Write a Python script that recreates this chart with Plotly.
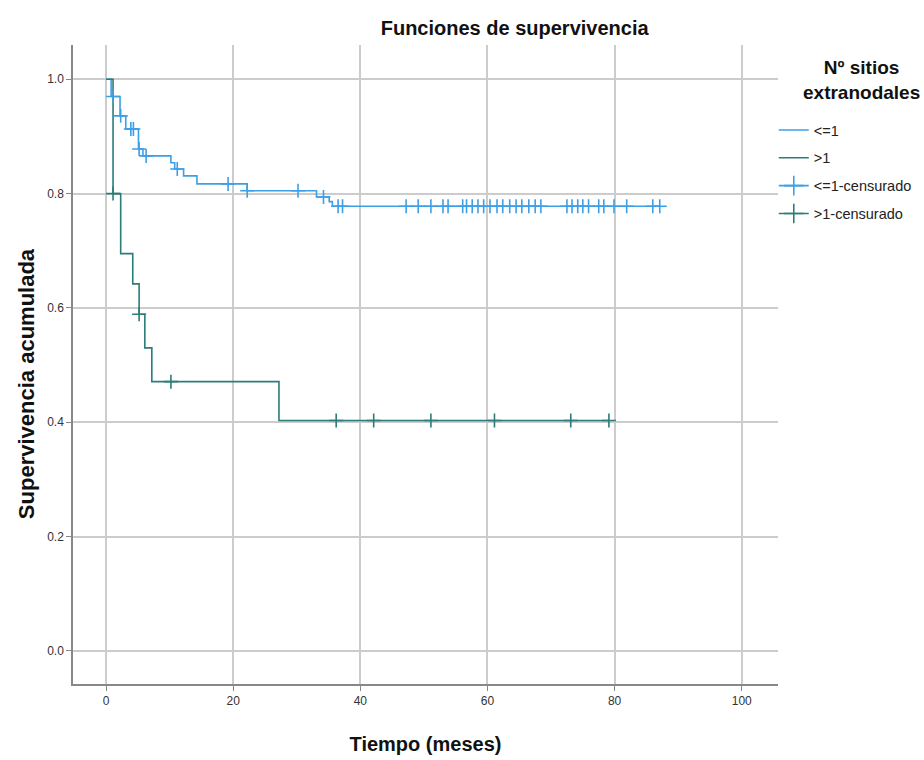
import plotly.graph_objects as go

# ---- data ----
blue_times = [0, 0.8, 2.2, 3.1, 5.1, 5.8, 10.2, 10.8, 12.2, 14.3, 22.2, 33.1, 35.1, 35.6, 87.1]
blue_surv = [1.0, 0.970, 0.936, 0.913, 0.878, 0.866, 0.854, 0.843, 0.831, 0.817, 0.805, 0.794, 0.786, 0.778, 0.778]
blue_cens_t = [1.1, 2.3, 3.9, 4.3, 5.2, 6.3, 11.2, 19.2, 22.2, 30.2, 34.2, 36.5, 37.2,
               47.2, 49.1, 51.1, 53.0, 53.8, 56.1, 56.7, 57.6, 58.5, 59.4, 60.4, 61.5, 62.4,
               63.5, 64.5, 65.4, 66.5, 67.5, 68.4, 72.5, 73.3, 74.2, 75.0, 75.9, 77.5, 78.3,
               79.9, 81.9, 86.0, 87.1]
blue_cens_s = [0.970, 0.936, 0.913, 0.913, 0.878, 0.866, 0.843, 0.817, 0.805, 0.805, 0.794,
               0.778, 0.778] + [0.778] * 30

green_times = [0, 1.1, 2.3, 4.2, 5.2, 6.1, 7.2, 27.2, 79.1]
green_surv = [1.0, 0.80, 0.695, 0.642, 0.589, 0.530, 0.471, 0.403, 0.403]
green_cens_t = [1.1, 5.2, 10.2, 36.2, 42.1, 51.1, 61.1, 73.1, 79.1]
green_cens_s = [0.80, 0.589, 0.471, 0.403, 0.403, 0.403, 0.403, 0.403, 0.403]

x_ticks = [0, 20, 40, 60, 80, 100]
y_ticks = [0.0, 0.2, 0.4, 0.6, 0.8, 1.0]

BLUE = "#3d9fe6"
GREEN = "#2c7c79"
FONT = "Liberation Sans, Arial, sans-serif"

fig = go.Figure()
fig.add_trace(go.Scatter(x=blue_times, y=blue_surv, mode="lines", line=dict(color=BLUE, width=1.6, shape="hv"),
                         name="<=1", legendgroup="a"))
fig.add_trace(go.Scatter(x=green_times, y=green_surv, mode="lines", line=dict(color=GREEN, width=1.6, shape="hv"),
                         name=">1", legendgroup="b"))
fig.add_trace(go.Scatter(x=blue_cens_t, y=blue_cens_s, mode="markers", showlegend=False,
                         marker=dict(symbol="cross-thin", size=10, line=dict(color=BLUE, width=1.6))))
fig.add_trace(go.Scatter(x=green_cens_t, y=green_cens_s, mode="markers", showlegend=False,
                         marker=dict(symbol="cross-thin", size=10, line=dict(color=GREEN, width=1.6))))
# legend entries for censored marks
fig.add_trace(go.Scatter(x=[None], y=[None], mode="lines+markers", name="<=1-censurado", legendgroup="c",
                         line=dict(color=BLUE, width=1.6),
                         marker=dict(symbol="cross-thin", size=14, line=dict(color=BLUE, width=1.6))))
fig.add_trace(go.Scatter(x=[None], y=[None], mode="lines+markers", name=">1-censurado", legendgroup="d",
                         line=dict(color=GREEN, width=1.6),
                         marker=dict(symbol="cross-thin", size=14, line=dict(color=GREEN, width=1.6))))

fig.update_layout(
    width=924, height=760,
    margin=dict(l=73, r=146, t=45, b=76, autoexpand=False),
    paper_bgcolor="white", plot_bgcolor="white",
    font=dict(family=FONT, size=13, color="#222"),
    title=dict(text="<b>Funciones de supervivencia</b>", x=0.557, xanchor="center", y=0.963, yanchor="middle",
               font=dict(size=20, family=FONT, color="#111")),
    legend=dict(x=0.994, xanchor="left", y=0.892, yanchor="top",
                font=dict(size=14.5, family=FONT, color="#222"),
                tracegroupgap=6, itemwidth=30, bgcolor="rgba(0,0,0,0)"),
    annotations=[
        dict(text="<b>Nº sitios<br>extranodales</b>", xref="paper", yref="paper",
             x=1.119, y=0.984, xanchor="center", yanchor="top", showarrow=False,
             font=dict(size=19, family=FONT, color="#111")),
        dict(text="<b>Supervivencia acumulada</b>", xref="paper", yref="paper",
             x=-0.066, y=0.47, xanchor="center", yanchor="middle", textangle=-90, showarrow=False,
             font=dict(size=22, family=FONT, color="#111")),
    ],
    xaxis=dict(range=[-5.2, 105.7], tickvals=x_ticks, ticktext=[str(v) for v in x_ticks],
               showgrid=True, gridcolor="#cccccc", gridwidth=2, zeroline=False,
               showline=True, linecolor="#888", linewidth=1.5,
               ticks="outside", ticklen=5, tickcolor="#888", tickfont=dict(size=12, color="#333"),
               title=dict(text="<b>Tiempo (meses)</b>", font=dict(size=20, family=FONT, color="#111"), standoff=30)),
    yaxis=dict(range=[-0.058, 1.06], tickvals=y_ticks, ticktext=[f"{v:.1f}" for v in y_ticks],
               showgrid=True, gridcolor="#cccccc", gridwidth=2, zeroline=False,
               showline=True, linecolor="#888", linewidth=1.5,
               ticks="outside", ticklen=5, tickcolor="#888", tickfont=dict(size=12, color="#333")),
)

fig.write_html("out.html")
